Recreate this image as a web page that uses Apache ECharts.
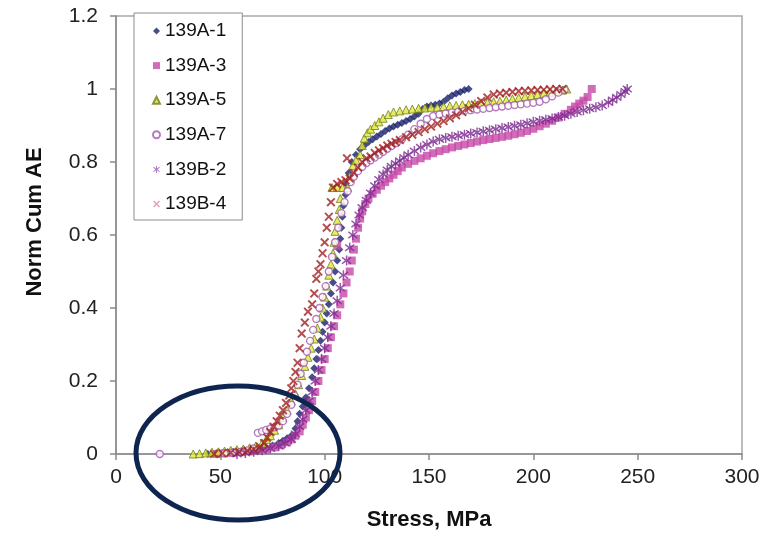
<!DOCTYPE html>
<html>
<head>
<meta charset="utf-8">
<script src="https://cdn.jsdelivr.net/npm/echarts@6/dist/echarts.min.js"></script>
<style>
  html, body { margin: 0; padding: 0; background: #fff; }
  #chart { width: 765px; height: 533px; }
</style>
</head>
<body>
<div id="chart"></div>
<script>
// Normalised cumulative acoustic emission versus stress, [stress MPa, norm cum AE]
const names = ['139A-1', '139A-3', '139A-5', '139A-7', '139B-2', '139B-4'];

const s139A1 = [[44,0],[48,0.002],[52,0.003],[56,0.005],[60,0.007],[64,0.01],[68,0.013],[72,0.018],[75,0.023],[78,0.03],[80,0.036],[82,0.043],[84,0.05],[86,0.07],[87,0.09],[88,0.11],[89.5,0.13],[91,0.155],[92.5,0.18],[94,0.21],[95,0.235],[96,0.26],[97,0.285],[98,0.31],[99,0.335],[100,0.36],[101,0.385],[102,0.41],[103,0.44],[104,0.47],[105,0.5],[106,0.53],[107,0.56],[107.5,0.59],[108,0.62],[108.5,0.65],[109,0.68],[110,0.71],[110.5,0.74],[111.5,0.77],[113,0.8],[115,0.82],[117,0.835],[119,0.845],[121,0.855],[123,0.862],[125,0.87],[127,0.877],[129,0.885],[131,0.892],[133,0.897],[135,0.902],[137,0.907],[139,0.912],[141,0.918],[143,0.925],[145,0.932],[147,0.945],[149,0.952],[151,0.955],[153,0.957],[155,0.96],[157,0.965],[159,0.975],[161,0.982],[163,0.988],[165,0.992],[167,0.997],[169,1.0]];

const s139A3 = [[48,0],[52,0.002],[56,0.003],[60,0.005],[64,0.007],[68,0.01],[72,0.013],[76,0.018],[79,0.024],[82,0.032],[84,0.04],[86,0.05],[88,0.062],[89.5,0.08],[91,0.1],[92.5,0.12],[94,0.145],[95.5,0.17],[97,0.2],[98.5,0.23],[100,0.26],[101.5,0.29],[103,0.32],[104.5,0.35],[106,0.38],[107.5,0.41],[109,0.44],[110.5,0.47],[112,0.5],[113,0.53],[114,0.56],[115,0.59],[116,0.62],[117,0.645],[118,0.665],[119.5,0.685],[121,0.7],[123,0.713],[125,0.724],[127,0.735],[129,0.745],[131,0.755],[133,0.765],[135,0.775],[137,0.785],[140,0.795],[143,0.803],[146,0.81],[149,0.817],[152,0.824],[155,0.83],[158,0.835],[161,0.84],[164,0.844],[167,0.848],[170,0.852],[173,0.856],[176,0.86],[179,0.863],[182,0.866],[185,0.869],[188,0.872],[191,0.876],[194,0.88],[197,0.885],[200,0.891],[203,0.898],[206,0.905],[209,0.913],[212,0.922],[215,0.932],[218,0.943],[220,0.952],[222,0.96],[224,0.968],[226,0.978],[228,1.0],[106,0.57]];

const s139A5 = [[37,0],[40,0.001],[43,0.003],[46,0.005],[49,0.006],[52,0.008],[55,0.01],[58,0.012],[61,0.014],[64,0.017],[67,0.022],[70,0.03],[72,0.04],[74,0.05],[76,0.065],[78,0.08],[80,0.1],[82,0.12],[84,0.145],[86,0.165],[87.5,0.19],[89,0.215],[90.5,0.24],[92,0.265],[93.5,0.29],[95,0.315],[96.5,0.345],[98,0.375],[99,0.4],[100,0.43],[101,0.46],[102,0.49],[103,0.52],[104,0.55],[104.5,0.58],[105,0.61],[106,0.64],[107,0.67],[107.5,0.7],[103.5,0.73],[106,0.73],[108.5,0.73],[111,0.73],[112,0.76],[113.5,0.79],[115,0.805],[117,0.82],[118,0.845],[119,0.865],[120.5,0.88],[122,0.89],[124,0.9],[126,0.91],[128,0.92],[130.5,0.93],[133,0.937],[136,0.94],[139,0.943],[142,0.945],[145,0.947],[148,0.948],[151,0.95],[154,0.95],[157,0.952],[160,0.954],[163,0.955],[166,0.957],[169,0.958],[172,0.96],[175,0.962],[178,0.963],[181,0.965],[184,0.967],[187,0.97],[190,0.973],[193,0.976],[196,0.979],[199,0.982],[202,0.985],[205,0.988],[208,0.991],[211,0.994],[214,0.997],[216,1.0]];

const s139A7 = [[21,0],[52,0.002],[56,0.004],[60,0.006],[63,0.01],[66,0.015],[68,0.058],[70,0.062],[72,0.066],[74,0.07],[76,0.073],[78,0.078],[80,0.09],[82,0.11],[84,0.135],[85.5,0.16],[87,0.19],[88.5,0.22],[90,0.25],[91.5,0.28],[93,0.31],[94.5,0.34],[96,0.37],[97.5,0.4],[99,0.43],[100.5,0.46],[102,0.5],[103.5,0.54],[105,0.58],[106.5,0.62],[108,0.66],[109.5,0.69],[111,0.72],[112.5,0.745],[114,0.76],[116,0.775],[118,0.787],[120,0.797],[122,0.805],[124,0.812],[126,0.82],[128,0.828],[130,0.836],[132,0.844],[134.5,0.852],[137,0.862],[140,0.875],[143,0.89],[146,0.905],[149,0.918],[152,0.926],[155,0.93],[158,0.933],[161,0.936],[164,0.938],[167,0.94],[170,0.942],[173,0.944],[176,0.946],[179,0.948],[182,0.95],[185,0.952],[188,0.954],[191,0.956],[194,0.958],[197,0.96],[200,0.962],[203,0.965],[206,0.972],[209,0.98],[212,0.99],[215,0.997]];

const s139B2 = [[58,0],[62,0.003],[66,0.006],[70,0.01],[74,0.015],[78,0.022],[81,0.03],[84,0.04],[86,0.055],[88,0.075],[89.5,0.095],[91,0.12],[92.5,0.145],[94,0.17],[95.5,0.2],[97,0.23],[98.5,0.26],[100,0.29],[101.5,0.32],[103,0.35],[104.5,0.385],[106,0.42],[107.5,0.455],[109,0.49],[110.5,0.53],[112,0.565],[113.5,0.6],[115,0.63],[116.5,0.655],[118,0.675],[120,0.695],[122,0.715],[124,0.735],[126,0.752],[128,0.766],[130,0.778],[132,0.788],[134,0.796],[136,0.803],[138,0.812],[140,0.82],[143,0.83],[146,0.84],[149,0.848],[152,0.856],[155,0.862],[158,0.866],[161,0.869],[164,0.872],[167,0.875],[170,0.878],[173,0.881],[176,0.884],[179,0.887],[182,0.89],[185,0.893],[188,0.896],[191,0.899],[194,0.902],[197,0.906],[200,0.91],[203,0.913],[206,0.916],[209,0.919],[212,0.923],[215,0.927],[218,0.932],[221,0.937],[224,0.942],[227,0.946],[230,0.95],[233,0.955],[236,0.963],[238,0.97],[240,0.977],[242,0.985],[244,0.993],[245,1.0]];

const s139B4 = [[47,0],[51,0.002],[55,0.004],[59,0.006],[63,0.009],[66,0.013],[69,0.02],[71,0.03],[72.5,0.045],[74,0.06],[75.5,0.075],[77,0.09],[78.5,0.105],[80,0.12],[81.5,0.14],[83,0.16],[84,0.18],[85,0.2],[86,0.225],[87,0.25],[88,0.29],[89,0.33],[90.5,0.36],[92,0.39],[94,0.41],[95,0.44],[96,0.48],[97,0.5],[98,0.52],[99,0.55],[100,0.58],[101,0.62],[102,0.65],[103,0.69],[104,0.73],[106,0.74],[108,0.745],[110,0.75],[112,0.755],[110.7,0.81],[114,0.77],[116,0.785],[118,0.8],[120,0.81],[122,0.815],[124,0.825],[126,0.832],[128,0.838],[130,0.845],[132,0.85],[134,0.855],[136,0.86],[139,0.868],[142,0.875],[145,0.882],[148,0.89],[151,0.897],[154,0.905],[157,0.912],[160,0.92],[163,0.928],[166,0.937],[169,0.947],[172,0.957],[175,0.967],[178,0.977],[181,0.985],[184,0.988],[187,0.99],[190,0.992],[193,0.994],[196,0.995],[199,0.996],[202,0.997],[205,0.998],[208,0.999],[211,1.0],[214,1.0]];

const seriesData = [s139A1, s139A3, s139A5, s139A7, s139B2, s139B4];

// Marker shapes: diamond, square, triangle, open circle, asterisk, cross
const ASTERISK = 'path://M4.3,0 L5.7,0 L5.7,3.8 L8.9,1.2 L9.8,2.3 L6.6,5 L9.8,7.7 L8.9,8.8 L5.7,6.2 L5.7,10 L4.3,10 L4.3,6.2 L1.1,8.8 L0.2,7.7 L3.4,5 L0.2,2.3 L1.1,1.2 L4.3,3.8 Z';
const CROSS = 'path://M0,1.5 L1.5,0 L5,3.5 L8.5,0 L10,1.5 L6.5,5 L10,8.5 L8.5,10 L5,6.5 L1.5,10 L0,8.5 L3.5,5 Z';

const markerStyles = [
  { symbol: 'diamond', size: 8, itemStyle: { color: '#18216c' } },
  { symbol: 'rect', size: 8, itemStyle: { color: '#c647a8' } },
  { symbol: 'triangle', size: 8, itemStyle: { color: '#e4e63c', borderColor: '#6f7f18', borderWidth: 1 } },
  { symbol: 'circle', size: 7, itemStyle: { color: '#ffffff', borderColor: '#a25ab0', borderWidth: 1.4 } },
  { symbol: ASTERISK, size: 10, itemStyle: { color: '#7d2b90' } },
  { symbol: CROSS, size: 9, itemStyle: { color: '#a11f22' } }
];

const FONT = '"Liberation Sans", Arial, sans-serif';

const chart = echarts.init(document.getElementById('chart'), null, { renderer: 'canvas' });

chart.setOption({
  animation: false,
  backgroundColor: '#ffffff',
  grid: {
    left: 116, right: 23, top: 16, bottom: 79,
    containLabel: false,
    outerBoundsMode: 'none',
    show: true, borderColor: '#a8a8a8', borderWidth: 1.5
  },
  legend: {
    orient: 'vertical',
    left: 134, top: 13,
    padding: [8, 16, 6, 18],
    itemWidth: 7, itemHeight: 7,
    itemGap: 14.6,
    backgroundColor: '#ffffff',
    borderColor: '#8c8c8c',
    borderWidth: 1,
    selectedMode: false,
    textStyle: { fontFamily: FONT, fontSize: 19, color: '#111', lineHeight: 20 },
    data: names.map((n, i) => ({
      name: n,
      itemStyle: i === 4 || i === 5 ? { color: i === 4 ? '#9a5fb0' : '#d98aa6' } : undefined
    }))
  },
  xAxis: {
    type: 'value',
    min: 0, max: 300, interval: 50,
    name: 'Stress, MPa',
    nameLocation: 'middle',
    nameGap: 55,
    nameTextStyle: { fontFamily: FONT, fontSize: 22, fontWeight: 'bold', color: '#111' },
    axisLine: { show: true, lineStyle: { color: '#8a8a8a', width: 1.5 } },
    axisTick: { show: true, inside: false, length: 6, lineStyle: { color: '#8a8a8a', width: 1.5 } },
    axisLabel: { fontFamily: FONT, fontSize: 21, color: '#222', margin: 13 },
    splitLine: { show: false }
  },
  yAxis: {
    type: 'value',
    min: 0, max: 1.2, interval: 0.2,
    axisLine: { show: true, lineStyle: { color: '#8a8a8a', width: 1.5 } },
    axisTick: { show: true, inside: false, length: 6, lineStyle: { color: '#8a8a8a', width: 1.5 } },
    axisLabel: {
      fontFamily: FONT, fontSize: 21, color: '#222', margin: 18,
      formatter: v => String(+v.toFixed(1))
    },
    splitLine: { show: false }
  },
  series: names.map((n, i) => ({
    name: n,
    type: 'scatter',
    symbol: markerStyles[i].symbol,
    symbolSize: markerStyles[i].size,
    itemStyle: markerStyles[i].itemStyle,
    data: seriesData[i],
    z: 2 + i
  })),
  graphic: [
    {
      type: 'text',
      x: 35, y: 222,
      rotation: Math.PI / 2,
      style: {
        text: 'Norm Cum AE',
        font: 'bold 22px ' + FONT,
        fill: '#111',
        textAlign: 'center',
        textVerticalAlign: 'middle'
      }
    },
    {
      // highlight ring around the low-stress onset region
      type: 'ellipse',
      shape: { cx: 238, cy: 453, rx: 102, ry: 67 },
      style: { fill: 'none', stroke: '#0e2550', lineWidth: 5 },
      z: 100
    }
  ]
});
</script>
</body>
</html>
